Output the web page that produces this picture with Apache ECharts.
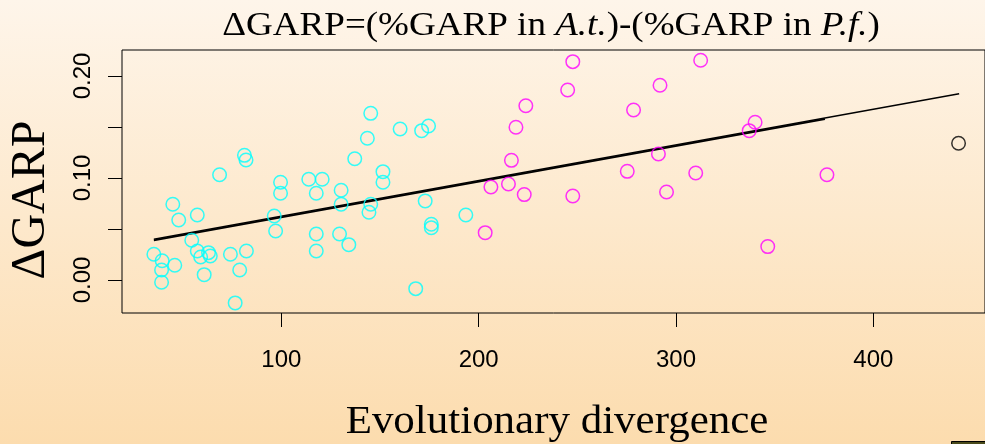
<!DOCTYPE html>
<html>
<head>
<meta charset="utf-8">
<script src="https://cdn.jsdelivr.net/npm/echarts@6/dist/echarts.min.js"></script>
<style>
  html, body { margin: 0; padding: 0; }
  #chart { width: 985px; height: 444px; }
</style>
</head>
<body>
<div id="chart"></div>
<script>
// group with lower divergence (cyan)
const cyanX = [35.4, 39.6, 39.3, 39.3, 45.0, 46.0, 48.0, 54.6, 57.4, 57.4, 59.1, 60.9, 63.1, 64.0, 68.7, 74.2, 76.6, 78.9, 81.3, 82.1, 82.3,
  96.4, 97.1, 99.6, 99.6, 113.9, 117.7, 117.7, 117.7, 120.7, 129.5, 130.3, 130.3, 134.2, 137.2, 143.6, 144.4, 145.3, 145.3,
  151.5, 151.5, 160.2, 168.1, 171.1, 172.9, 174.6, 176.0, 176.0, 193.5]
const cyanY = [0.0252, 0.0189, 0.0098, -0.0023, 0.0742, 0.0144, 0.0588, 0.0389, 0.0637, 0.0284, 0.0225, 0.0052, 0.0268, 0.0235, 0.1032, 0.0252, -0.0225, 0.0098, 0.1222, 0.1176, 0.0284,
  0.0627, 0.0480, 0.0958, 0.0850, 0.0987, 0.0850, 0.0451, 0.0284, 0.0987, 0.0451, 0.0879, 0.0742, 0.0346, 0.1189, 0.1389, 0.0664, 0.0742, 0.1634,
  0.1062, 0.0958, 0.1480, -0.0085, 0.1464, 0.0775, 0.1510, 0.0546, 0.0513, 0.0637]

// higher divergence (magenta)
const magX = [203.3, 206.2, 215.1, 216.6, 218.9, 223.1, 223.9, 245.1, 247.7, 247.7, 275.3, 278.5, 291.1, 291.9, 295.2, 310.0, 312.5, 337.1, 340.1, 346.5, 376.5]
const magY = [0.0464, 0.0912, 0.0941, 0.1173, 0.1497, 0.0837, 0.1709, 0.1863, 0.2141, 0.0824, 0.1065, 0.1667, 0.1235, 0.1909, 0.0863, 0.1049, 0.2154, 0.1464, 0.1546, 0.0327, 0.1032]

// outlier (black)
const blackX = [443.2]
const blackY = [0.1340]

// fitted lines: all points / without outlier
const fitAllX = [35.4, 443.5]
const fitAllY = [0.0399, 0.1826]
const fitSubX = [35.4, 375.5]
const fitSubY = [0.0388, 0.1577]

const xTicks = [100, 200, 300, 400]
const yTicks = [0, 0.05, 0.10, 0.15, 0.20]
const yTickLabels = [0, 0.10, 0.20]

const zip = (xs, ys) => xs.map((x, i) => [x, ys[i]])

const chart = echarts.init(document.getElementById('chart'))

const ringStyle = c => ({ color: 'transparent', borderColor: c, borderWidth: 1.5 })

chart.setOption({
  animation: false,
  backgroundColor: new echarts.graphic.LinearGradient(0, 0, 0, 1, [
    { offset: 0, color: '#fef5ea' },
    { offset: 1, color: '#fcdcae' }
  ]),
  grid: {
    left: 122,
    top: 50,
    right: -2,
    bottom: 131,
    show: true,
    borderColor: '#000',
    borderWidth: 1,
    backgroundColor: 'transparent'
  },
  xAxis: {
    type: 'value',
    min: 19.25,
    max: 456.6,
    splitLine: { show: false },
    axisLine: { show: false, onZero: false },
    axisTick: { show: true, length: 14, customValues: xTicks, lineStyle: { color: '#000', width: 1 } },
    axisLabel: {
      customValues: xTicks,
      margin: 35,
      fontFamily: 'Liberation Sans',
      fontSize: 24,
      color: '#000'
    }
  },
  yAxis: {
    type: 'value',
    min: -0.0324,
    max: 0.2255,
    splitLine: { show: false },
    axisLine: { show: false, onZero: false },
    axisTick: { show: true, length: 14, customValues: yTicks, lineStyle: { color: '#000', width: 1 } },
    axisLabel: {
      customValues: yTickLabels,
      rotate: 90,
      margin: 27,
      fontFamily: 'Liberation Sans',
      fontSize: 24,
      color: '#000',
      formatter: v => v.toFixed(2)
    }
  },
  graphic: [
    {
      type: 'text',
      x: 551,
      y: 9,
      scaleX: 1.09,
      style: {
        text: 'ΔGARP=(%GARP in {i|A.t.})-(%GARP in {i|P.f.})',
        font: '34px "Liberation Serif"',
        fill: '#000',
        textAlign: 'center',
        textVerticalAlign: 'top',
        rich: {
          i: { font: 'italic 34px "Liberation Serif"', fill: '#000' }
        }
      }
    },
    {
      type: 'text',
      x: 31,
      y: 200,
      rotation: Math.PI / 2,
      style: {
        text: 'ΔGARP',
        font: '48px "Liberation Serif"',
        fill: '#000',
        textAlign: 'center',
        textVerticalAlign: 'middle'
      }
    },
    {
      type: 'text',
      x: 557,
      y: 422,
      scaleX: 1.074,
      style: {
        text: 'Evolutionary divergence',
        font: '40px "Liberation Serif"',
        fill: '#000',
        textAlign: 'center',
        textVerticalAlign: 'middle'
      }
    },
    {
      type: 'rect',
      shape: { x: 951.5, y: 441.5, width: 40, height: 10 },
      style: { fill: '#4a4a1a', stroke: '#000', lineWidth: 1 }
    }
  ],
  series: [
    {
      type: 'line',
      data: zip(fitAllX, fitAllY),
      showSymbol: false,
      lineStyle: { color: '#000', width: 1.4 },
      z: 3
    },
    {
      type: 'line',
      data: zip(fitSubX, fitSubY),
      showSymbol: false,
      lineStyle: { color: '#000', width: 1.6 },
      z: 3
    },
    {
      type: 'scatter',
      data: zip(cyanX, cyanY),
      symbol: 'circle',
      symbolSize: 13.5,
      itemStyle: ringStyle('#00ffff'),
      z: 4
    },
    {
      type: 'scatter',
      data: zip(magX, magY),
      symbol: 'circle',
      symbolSize: 13.5,
      itemStyle: ringStyle('#ff00ff'),
      z: 4
    },
    {
      type: 'scatter',
      data: zip(blackX, blackY),
      symbol: 'circle',
      symbolSize: 13.5,
      itemStyle: ringStyle('#000'),
      z: 4
    }
  ]
})

window.addEventListener('resize', () => chart.resize())
</script>
</body>
</html>
